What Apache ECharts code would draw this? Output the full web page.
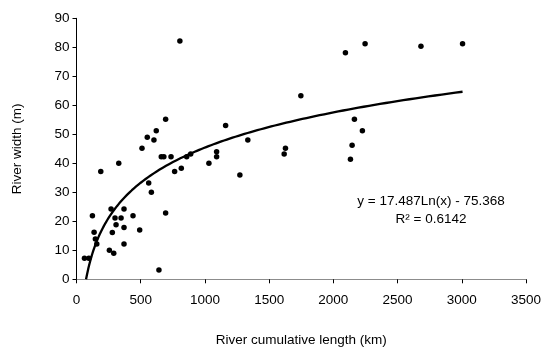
<!DOCTYPE html>
<html><head><meta charset="utf-8">
<script src="https://cdn.jsdelivr.net/npm/echarts@6/dist/echarts.min.js"></script>
<style>html,body{margin:0;padding:0;background:#fff}#c{width:543px;height:350px}</style>
</head><body><div id="c"></div>
<script>
var lengthKm = [62,96,124,137,147,158,189,256,269,279,290,300,308,329,347,370,370,370,440,492,510,551,562,583,603,621,642,660,680,694,694,736,764,805,816,858,889,1031,1091,1091,1161,1272,1334,1617,1627,1747,2094,2133,2146,2164,2226,2247,2682,3006];
var widthM   = [7.3,7.3,21.9,16.2,13.9,12.2,37.2,10.0,24.2,16.1,9.0,21.1,18.8,40.0,21.1,24.2,17.9,12.2,21.9,17.0,45.2,49.0,33.2,30.0,48.0,51.2,3.2,42.3,42.3,55.2,22.9,42.3,37.2,82.2,38.3,42.3,43.2,40.0,44.0,42.3,53.0,36.0,48.0,43.2,45.2,63.3,78.1,41.4,46.2,55.2,51.2,81.2,80.4,81.2];
var trendA = 17.487, trendB = -75.368;
var trendStart = 74.4, trendEnd = 3006;
var xTicks = [0,500,1000,1500,2000,2500,3000,3500];
var yTicks = [0,10,20,30,40,50,60,70,80,90];
var equationText = 'y = 17.487Ln(x) - 75.368';
var r2Text = 'R² = 0.6142';

var pts = lengthKm.map(function(x,i){return [x, widthM[i]];});
var trend = [];
var n = 200;
for (var i=0;i<=n;i++){
  var x = trendStart * Math.pow(trendEnd/trendStart, i/n);
  trend.push([x, trendA*Math.log(x)+trendB]);
}
var font = 'Liberation Sans, Arial, sans-serif';
var fs = 13.5;
var chart = echarts.init(document.getElementById('c'));
chart.setOption({
  animation:false,
  backgroundColor:'#fff',
  grid:{left:76.5, right:17, top:18.3, bottom:70.7, containLabel:false, outerBoundsMode:'none'},
  xAxis:{type:'value', min:xTicks[0], max:xTicks[xTicks.length-1], interval:500,
    name:'River cumulative length (km)', nameLocation:'middle', nameGap:54,
    nameTextStyle:{fontFamily:font,fontSize:fs,color:'#000'},
    axisLine:{show:true,onZero:false,lineStyle:{color:'#8c8c8c',width:1}},
    axisTick:{show:true,inside:false,length:4,lineStyle:{color:'#000'}},
    axisLabel:{fontFamily:font,fontSize:fs,color:'#000',margin:14,formatter:function(v){return String(v);}},
    splitLine:{show:false}},
  yAxis:{type:'value', min:yTicks[0], max:yTicks[yTicks.length-1], interval:10,
    name:'River width (m)', nameLocation:'middle', nameGap:52, nameRotate:90,
    nameTextStyle:{fontFamily:font,fontSize:fs,color:'#000'},
    axisLine:{show:true,lineStyle:{color:'#000',width:1}},
    axisTick:{show:true,inside:false,length:4,lineStyle:{color:'#000'}},
    axisLabel:{fontFamily:font,fontSize:fs,color:'#000',margin:7},
    splitLine:{show:false}},
  series:[
    {type:'scatter', data:pts, symbol:'circle', symbolSize:5.5, itemStyle:{color:'#000',opacity:1}, z:3},
    {type:'line', data:trend, showSymbol:false, smooth:false, lineStyle:{color:'#000',width:2.3}, z:2}
  ],
  graphic:[
    {type:'text', x:431, y:201, style:{text:equationText, font:fs+'px '+font, fill:'#000', textAlign:'center', textVerticalAlign:'middle'}},
    {type:'text', x:431, y:219, style:{text:r2Text, font:fs+'px '+font, fill:'#000', textAlign:'center', textVerticalAlign:'middle'}}
  ]
});
</script></body></html>
